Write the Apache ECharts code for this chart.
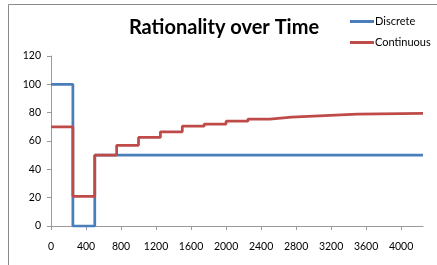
<!DOCTYPE html>
<html>
<head>
<meta charset="utf-8">
<script src="https://cdn.jsdelivr.net/npm/echarts@6/dist/echarts.min.js"></script>
<style>html,body{margin:0;padding:0;background:#fff}#c{width:437px;height:265px}</style>
</head>
<body>
<div id="c"></div>
<script>
const titleText = "Rationality over Time";
const seriesNames = ["Discrete", "Continuous"];
const discreteTimes = [0, 250, 500, 4250];
const discreteValues = [100, 0, 50, 50];
const continuousTimes = [0, 250, 500, 750, 1000, 1250, 1500, 1750, 2000, 2250, 2500, 2750, 3000, 3250, 3500, 4250];
const continuousValues = [70, 21, 50, 57, 62.5, 66.5, 70.5, 72, 74, 75.5, 76.8, 77.6, 78.3, 78.9, 79.5, 79.5];
const xTicks = [0, 400, 800, 1200, 1600, 2000, 2400, 2800, 3200, 3600, 4000];
const yTicks = [0, 20, 40, 60, 80, 100, 120];

const pair = (xs, ys) => xs.map((x, i) => [x, ys[i]]);
const font = "Lato, 'Open Sans', sans-serif";
const chart = echarts.init(document.getElementById('c'), null, {renderer: 'canvas'});
chart.setOption({
  animation: false,
  graphic: [
    {type: 'rect', shape: {x: 8.5, y: 4.5, width: 440, height: 280}, style: {fill: 'none', stroke: '#8a8a8a', lineWidth: 1}, silent: true},
    {type: 'text', x: 224, y: 28, style: {text: titleText, textAlign: 'center', textVerticalAlign: 'middle',
      font: "bold 20px " + font, fill: '#000'}, silent: true}
  ],
  legend: {orient: 'vertical', left: 345, top: 11, itemWidth: 24, itemHeight: 3, itemGap: 10,
    icon: 'rect', textStyle: {fontFamily: font, fontSize: 11, color: '#000', padding: [0, 0, 0, -4]},
    data: seriesNames},
  grid: {left: 51, right: 14, top: 56, bottom: 39},
  xAxis: {type: 'value', min: 0, max: 4250, interval: 400,
    axisLine: {lineStyle: {color: '#9a9a9a'}}, axisTick: {length: 4, lineStyle: {color: '#9a9a9a'}},
    splitLine: {show: false},
    axisLabel: {showMaxLabel: false, fontFamily: font, fontSize: 10.5, color: '#000', margin: 15,
      formatter: v => xTicks.includes(v) ? String(v) : ''}},
  yAxis: {type: 'value', min: 0, max: 120, interval: 20,
    axisLine: {show: true, lineStyle: {color: '#9a9a9a'}}, axisTick: {show: true, length: 4, lineStyle: {color: '#9a9a9a'}},
    splitLine: {show: false},
    axisLabel: {fontFamily: font, fontSize: 10.5, color: '#000', margin: 10,
      formatter: v => yTicks.includes(v) ? String(v) : ''}},
  series: [
    {name: seriesNames[0], type: 'line', step: 'end', symbol: 'none', data: pair(discreteTimes, discreteValues),
      lineStyle: {color: '#4a7ebb', width: 2.75}, itemStyle: {color: '#4a7ebb'}},
    {name: seriesNames[1], type: 'line', step: 'end', symbol: 'none', data: pair(continuousTimes, continuousValues),
      lineStyle: {color: '#be4b48', width: 2.75}, itemStyle: {color: '#be4b48'}}
  ]
});
</script>
</body>
</html>
